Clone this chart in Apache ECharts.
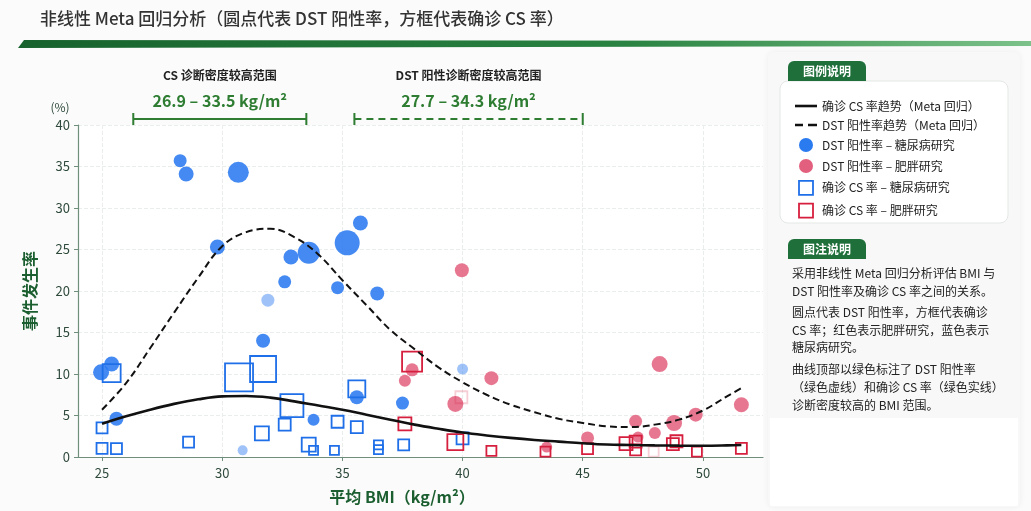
<!DOCTYPE html>
<html>
<head>
<meta charset="utf-8">
<script src="https://cdn.jsdelivr.net/npm/echarts@6/dist/echarts.min.js"></script>
<style>
  html, body { margin: 0; padding: 0; background: #fafbfa; }
  #main { width: 1031px; height: 511px; }
</style>
</head>
<body>
<div id="main"></div>
<script>
const FONT = '"Noto Sans CJK SC", "Noto Sans", sans-serif';

// 趋势线（Meta 回归），按 BMI 读取
const trendBmi = [25, 26, 27, 28, 29, 30, 31, 32, 33, 34, 35, 36, 37, 38, 39, 40, 41, 42, 43, 44, 45, 46, 47, 48, 49, 50, 51, 51.6];
const dstTrend = [5.7, 8.9, 13.1, 17.4, 21.6, 25.4, 27.1, 27.5, 26.5, 24.4, 21.3, 18.3, 15.3, 13.0, 10.8, 9.0, 7.5, 6.3, 5.4, 4.6, 4.1, 3.7, 3.6, 3.9, 4.5, 5.6, 7.3, 8.3];
const csTrend = [4.0, 4.9, 5.7, 6.4, 6.95, 7.3, 7.35, 7.15, 6.7, 6.2, 5.7, 5.1, 4.5, 3.9, 3.4, 2.95, 2.6, 2.3, 2.05, 1.85, 1.65, 1.5, 1.45, 1.4, 1.37, 1.36, 1.4, 1.45];

// [BMI, 发生率, 权重]
const dstDiabetes = [
  [24.96, 10.2, 16], [25.4, 11.2, 15], [25.6, 4.6, 14], [28.25, 35.7, 13], [28.5, 34.1, 15],
  [30.67, 34.3, 21], [29.8, 25.3, 15], [31.7, 14.0, 14], [32.86, 24.1, 15], [33.6, 24.6, 22],
  [35.2, 25.8, 25], [35.75, 28.2, 15], [32.6, 21.1, 13], [34.8, 20.4, 13], [36.45, 19.7, 14],
  [35.6, 7.2, 14], [33.8, 4.5, 12], [37.5, 6.5, 13]
];
const dstDiabetesFaint = [[31.9, 18.9, 13], [40.0, 10.6, 11], [30.85, 0.8, 10]];
const dstObesity = [
  [39.97, 22.5, 14], [37.9, 10.5, 13], [37.6, 9.2, 12], [41.2, 9.5, 14], [39.7, 6.4, 16],
  [48.2, 11.2, 16], [51.6, 6.3, 15], [49.7, 5.1, 14], [48.8, 4.1, 16], [47.2, 4.3, 13],
  [48.0, 2.9, 12], [47.3, 2.4, 11], [45.2, 2.3, 13], [43.5, 1.2, 11]
];
const csDiabetes = [
  [25.4, 10.1, 18], [25.0, 3.5, 11], [25.0, 1.05, 11], [25.6, 1.0, 11], [28.6, 1.8, 11],
  [30.7, 9.6, 28], [31.7, 10.6, 26], [32.9, 6.2, 23], [32.6, 3.9, 12], [31.65, 2.85, 14],
  [33.6, 1.5, 14], [33.8, 0.8, 9], [34.67, 0.8, 9], [34.8, 4.25, 12], [35.6, 8.2, 17],
  [35.6, 3.6, 12], [36.5, 1.45, 9], [36.5, 0.9, 9], [37.55, 1.45, 11], [40.0, 2.25, 12]
];
const csObesity = [
  [37.9, 11.5, 20], [37.6, 4.0, 13], [39.7, 1.8, 16], [41.2, 0.75, 10], [43.45, 0.65, 10],
  [45.2, 1.0, 11], [46.8, 1.6, 13], [47.2, 1.85, 12], [47.2, 0.85, 11], [48.75, 1.55, 12],
  [48.9, 1.9, 12], [49.75, 0.65, 10], [51.6, 1.05, 11]
];
const csObesityFaint = [[39.95, 7.2, 12], [47.95, 0.65, 10]];

const xTicks = [25, 30, 35, 40, 45, 50];
const csRange = [26.3, 33.5];
const dstRange = [35.5, 45.0];
const csRangeText = '26.9 – 33.5 kg/m²';
const dstRangeText = '27.7 – 34.3 kg/m²';

const names = {
  csTrend: '确诊 CS 率趋势（Meta 回归）',
  dstTrend: 'DST 阳性率趋势（Meta 回归）',
  dstDia: 'DST 阳性率 – 糖尿病研究',
  dstObe: 'DST 阳性率 – 肥胖研究',
  csDia: '确诊 CS 率 – 糖尿病研究',
  csObe: '确诊 CS 率 – 肥胖研究'
};

const notes = [
  ['采用非线性 Meta 回归分析评估 BMI 与', 273],
  ['DST 阳性率及确诊 CS 率之间的关系。', 291],
  ['圆点代表 DST 阳性率，方框代表确诊', 312],
  ['CS 率；红色表示肥胖研究，蓝色表示', 330],
  ['糖尿病研究。', 347],
  ['曲线顶部以绿色标注了 DST 阳性率', 369],
  ['（绿色虚线）和确诊 CS 率（绿色实线）', 387],
  ['诊断密度较高的 BMI 范围。', 405]
];

const BLUE = '#2a7af0';
const SQBLUE = '#1f6fe8';
const PINK = '#e35f7e';
const RED = '#d61f3e';
const GREEN = '#2e7d32';
const DARKGREEN = '#1b5e2f';
const INK = '#111';

const chart = echarts.init(document.getElementById('main'));
const zip = (xs, ys) => xs.map((x, i) => [x, ys[i]]);
const size = v => v[2];

const hollow = color => ({ color: 'rgba(255,255,255,0)', borderColor: color, borderWidth: 1.8, opacity: 1 });

chart.setOption({
  backgroundColor: '#fafbfa',
  textStyle: { fontFamily: FONT },
  animation: false,
  grid: { left: 78, right: 268, top: 125, bottom: 54, containLabel: false, show: true, backgroundColor: '#fff', borderWidth: 0 },
  legend: {
    orient: 'vertical', left: 790, top: 95, itemGap: 7, itemWidth: 22, itemHeight: 14,
    textStyle: { fontSize: 12, color: '#222', fontFamily: FONT },
    data: [
      { name: names.csTrend, icon: 'path://M0,0H22V2.6H0Z', itemStyle: { color: INK, borderWidth: 0 } },
      { name: names.dstTrend, icon: 'path://M0,0H8V2.4H0Z M13,0H22V2.4H13Z', itemStyle: { color: INK, borderWidth: 0 } },
      { name: names.dstDia, icon: 'circle', itemStyle: { color: BLUE, opacity: 1 } },
      { name: names.dstObe, icon: 'circle', itemStyle: { color: PINK, opacity: 1 } },
      { name: names.csDia, icon: 'path://M0,0H10V10H0Z', itemStyle: hollow(SQBLUE) },
      { name: names.csObe, icon: 'path://M0,0H10V10H0Z', itemStyle: hollow(RED) }
    ]
  },
  xAxis: {
    type: 'value', min: 24, max: 52.5,
    axisLine: { lineStyle: { color: '#6f8f7c', width: 1.2 } },
    axisTick: { show: true, customValues: xTicks, length: 4, lineStyle: { color: '#6f8f7c' } },
    axisLabel: { customValues: xTicks, color: '#2f4a3c', fontSize: 13, margin: 10 },
    splitLine: { show: true, lineStyle: { color: '#e9edeb', type: 'dashed' } }
  },
  yAxis: {
    type: 'value', min: 0, max: 40, interval: 5,
    name: '事件发生率', nameLocation: 'middle', nameGap: 40, nameRotate: 90,
    nameTextStyle: { color: DARKGREEN, fontSize: 16, fontWeight: 'bold', fontFamily: FONT },
    axisLine: { show: true, lineStyle: { color: '#6f8f7c', width: 1.2 } },
    axisTick: { show: true, length: 4, lineStyle: { color: '#6f8f7c' } },
    axisLabel: { color: '#2f4a3c', fontSize: 13, margin: 8 },
    splitLine: { show: true, lineStyle: { color: '#e9edeb', type: 'dashed' } }
  },
  series: [
    {
      name: names.dstDia, type: 'scatter', data: dstDiabetes, symbolSize: size,
      itemStyle: { color: BLUE, opacity: 0.88 }, z: 2
    },
    {
      name: names.dstDia, type: 'scatter', data: dstDiabetesFaint, symbolSize: size,
      itemStyle: { color: BLUE, opacity: 0.45 }, z: 2
    },
    {
      name: names.dstObe, type: 'scatter', data: dstObesity, symbolSize: size,
      itemStyle: { color: PINK, opacity: 0.85 }, z: 2
    },
    {
      name: names.csDia, type: 'scatter', symbol: 'rect', data: csDiabetes, symbolSize: size,
      itemStyle: hollow(SQBLUE), z: 3
    },
    {
      name: names.csObe, type: 'scatter', symbol: 'rect', data: csObesity, symbolSize: size,
      itemStyle: hollow(RED), z: 3
    },
    {
      name: names.csObe, type: 'scatter', symbol: 'rect', data: csObesityFaint, symbolSize: size,
      itemStyle: Object.assign(hollow(RED), { opacity: 0.22 }), z: 3
    },
    {
      name: names.csTrend, type: 'line', data: zip(trendBmi, csTrend), smooth: 0.4, color: INK,
      symbol: 'none', lineStyle: { color: INK, width: 2.6 }, z: 5
    },
    {
      name: names.dstTrend, type: 'line', data: zip(trendBmi, dstTrend), smooth: 0.4, color: INK,
      symbol: 'none', lineStyle: { color: INK, width: 2, type: [7, 4] }, z: 5
    }
  ]
});

// 顶部范围标注与右侧说明，位置从坐标轴换算
function bracket(range, dashed, title, text) {
  const a = chart.convertToPixel({ gridIndex: 0 }, [range[0], 40]);
  const b = chart.convertToPixel({ gridIndex: 0 }, [range[1], 40]);
  const y = a[1] - 6;
  const cx = (a[0] + b[0]) / 2;
  const ls = { stroke: GREEN, lineWidth: 2, lineDash: dashed ? [7, 5] : null };
  return [
    { type: 'line', shape: { x1: a[0], y1: y, x2: b[0], y2: y }, style: ls },
    { type: 'line', shape: { x1: a[0], y1: y - 6, x2: a[0], y2: y + 6 }, style: { stroke: GREEN, lineWidth: 2 } },
    { type: 'line', shape: { x1: b[0], y1: y - 6, x2: b[0], y2: y + 6 }, style: { stroke: GREEN, lineWidth: 2 } },
    { type: 'text', x: cx, y: y - 44, style: { text: title, fill: '#222', font: 'bold 12px ' + FONT, align: 'center', verticalAlign: 'middle' } },
    { type: 'text', x: cx, y: y - 18, style: { text: text, fill: GREEN, font: 'bold 16px ' + FONT, align: 'center', verticalAlign: 'middle' } }
  ];
}

function tab(x, y, label) {
  return [
    { type: 'rect', shape: { x: x, y: y, width: 78, height: 20, r: [6, 6, 0, 0] }, style: { fill: '#1f6f3a' } },
    { type: 'text', x: x + 39, y: y + 10, style: { text: label, fill: '#fff', font: 'bold 12px ' + FONT, align: 'center', verticalAlign: 'middle' } }
  ];
}

const top40 = chart.convertToPixel({ gridIndex: 0 }, [24, 40]);

const graphics = [
  { type: 'text', x: 40, y: 19, style: { text: '非线性 Meta 回归分析（圆点代表 DST 阳性率，方框代表确诊 CS 率）', fill: '#333', font: '500 17px ' + FONT, verticalAlign: 'middle' } },
  {
    type: 'polygon', shape: { points: [[18, 48], [24, 40], [1031, 41], [1031, 46]] },
    style: { fill: new echarts.graphic.LinearGradient(0, 0, 1, 0, [
      { offset: 0, color: '#17622d' }, { offset: 0.6, color: '#2a8342' }, { offset: 1, color: '#7cc28a' }
    ]) }
  },
  { type: 'text', x: top40[0] - 18, y: top40[1] - 18, style: { text: '(%)', fill: '#2f4a3c', font: '12px ' + FONT, align: 'center', verticalAlign: 'middle' } },
  { type: 'text', x: 402, y: 497, style: { text: '平均 BMI（kg/m²）', fill: DARKGREEN, font: 'bold 16px ' + FONT, align: 'center', verticalAlign: 'middle' } },
  { type: 'rect', z: -1, shape: { x: 768, y: 52, width: 252, height: 455, r: 6 }, style: { fill: '#f7f8f7', shadowColor: 'rgba(0,0,0,0.06)', shadowBlur: 6 } },
  { type: 'rect', z: -1, shape: { x: 780, y: 81, width: 228, height: 142, r: 8 }, style: { fill: '#fff', stroke: '#e4e8e5', lineWidth: 1 } },
  { type: 'rect', z: -1, shape: { x: 770, y: 418, width: 248, height: 88 }, style: { fill: '#fff' } }
]
  .concat(bracket(csRange, false, 'CS 诊断密度较高范围', csRangeText))
  .concat(bracket(dstRange, true, 'DST 阳性诊断密度较高范围', dstRangeText))
  .concat(tab(788, 61, '图例说明'))
  .concat(tab(788, 239, '图注说明'))
  .concat(notes.map(([t, y]) => ({ type: 'text', x: 792, y: y, style: { text: t, fill: '#222', font: '12px ' + FONT, verticalAlign: 'middle' } })));

chart.setOption({ graphic: graphics });
</script>
</body>
</html>
